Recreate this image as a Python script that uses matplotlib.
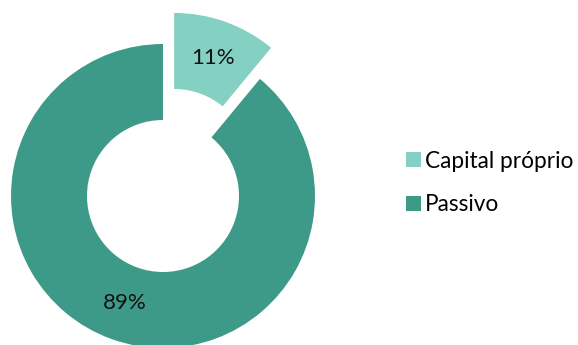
import matplotlib
matplotlib.use("Agg")
import matplotlib.pyplot as plt

categories = ["Capital próprio", "Passivo"]
values = [11, 89]
colors = ["#84D0C2", "#3E9A88"]

plt.rcParams['font.family'] = ['Lato', 'DejaVu Sans']

W, H = 578, 345
fig = plt.figure(figsize=(W / 100, H / 100), dpi=100)
ax = fig.add_axes([0, 0, 1, 1])

R = 152
wedges, texts, autotexts = ax.pie(
    values, colors=colors, startangle=90, counterclock=False,
    center=(163, H - 196), radius=R, explode=[33, 0],
    wedgeprops=dict(width=76, linewidth=0),
    autopct=lambda p: f"{p:.0f}%", pctdistance=0.75,
    textprops=dict(fontsize=16, color="#111111"), frame=True)
ax.set_xlim(0, W)
ax.set_ylim(0, H)
ax.set_aspect('equal')
ax.axis('off')

leg = ax.legend(wedges, categories, loc='center left',
                bbox_to_anchor=(406 / W, 1 - 183 / H), frameon=False,
                fontsize=16.3, handlelength=0.65, handleheight=0.65,
                handletextpad=0.2, labelspacing=1.0, borderpad=0,
                borderaxespad=0)

fig.savefig("out.png", dpi=100)
